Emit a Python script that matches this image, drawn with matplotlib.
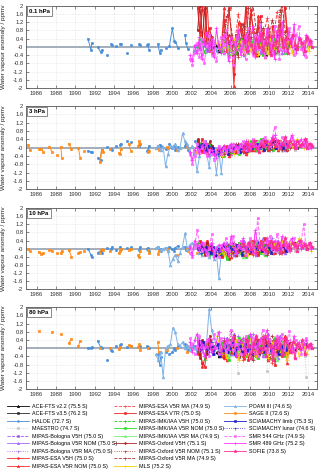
import numpy as np
import matplotlib.pyplot as plt
from matplotlib.lines import Line2D

plt.rcParams['font.family'] = ['Liberation Sans', 'DejaVu Sans']

nan = np.nan
LEVELS = ['0.1 hPa', '3 hPa', '10 hPa', '80 hPa']


def grid(start, n, step=0.25):
    # regular sampling dates (decimal years)
    return list(np.round(start + step * np.arange(n), 3))


# ---- sampling dates -------------------------------------------------------
HALOE_T = [1991.3, 1991.6, 1991.7, 1992.3, 1992.6, 1992.7, 1993.3, 1993.7, 1993.8,
           1994.2, 1994.6, 1994.7, 1995.3, 1995.7, 1996.6, 1996.7, 1997.4, 1997.5,
           1997.6, 1998.5, 1998.7, 1998.8, 1999.3, 1999.7, 2000.0, 2000.2, 2000.3,
           2000.6, 2001.3, 2001.4, 2001.6, 2002.3, 2002.6, 2003.3, 2003.6, 2004.3,
           2004.6, 2005.3, 2005.6]
SAGE_T = [1985.1, 1985.3, 1986.2, 1986.5, 1986.7, 1987.3, 1987.6, 1988.1, 1988.5,
          1988.6, 1989.3, 1989.6, 1990.3, 1990.5, 1990.9, 1992.5, 1992.7, 1992.8,
          1993.6, 1994.5, 1994.6, 1994.7, 1995.5, 1995.7, 1996.5, 1996.6, 1996.7,
          1997.5, 1997.6, 1998.5, 1998.6, 1999.5, 1999.6, 2000.5, 2001.5, 2001.6,
          2002.5, 2003.5, 2004.5]
POAM_T = grid(1998.3, 31)
V5H_T = grid(2002.6, 7)
V5R_T = grid(2005.1, 29)
MA_T = grid(2005.3, 14, 0.5)
V7R_T = grid(2002.6, 39)
MLS_T = grid(2004.6, 40)
SMR_T = grid(2001.8, 51)
SOFIE_T = grid(2007.4, 29)
SCIA_T = grid(2002.7, 38)
ACE22_T = [2004.6, 2004.8, 2005.6, 2005.8, 2006.6, 2006.8, 2007.6, 2007.8, 2008.6,
           2008.8, 2009.6, 2009.8]
ACE35_T = [2004.2, 2004.7, 2004.9, 2005.2, 2005.7, 2005.9, 2006.2, 2006.7, 2006.9,
           2007.2, 2007.7, 2007.9, 2008.2, 2008.7, 2008.9, 2009.2, 2009.7, 2009.9,
           2010.7, 2010.9, 2011.7, 2011.9, 2012.7, 2012.9, 2013.7, 2013.9]
MAESTRO_T = [2004.7, 2005.7, 2006.7, 2006.8, 2007.7, 2008.7, 2009.7, 2009.8, 2010.7,
             2011.7, 2012.7, 2013.7, 2013.8]
LUNAR_T = [2002.7, 2003.0, 2003.7, 2004.0, 2004.7, 2005.0, 2005.7, 2006.0, 2006.7,
           2007.0, 2007.7, 2008.0]

# ---- anomalies (ppmv), one list per level: 0.1, 3, 10, 80 hPa ---------------
HALOE_V = [
    [0.4, -0.15, 0.2, 0.0, -0.25, -0.15, -0.4, 0.15, 0.1, 0.05, 0.15, 0.15, -0.3, 0.1, 0.15, 0.1, 0.1, 0.12, -0.15,
     0.15, -0.3, -0.15, -0.05, 0.05, 0.9, 0.3, 0.25, -0.05, 0.6, 0.2, -0.1, -0.2, 0.1, 0.3, -0.1, 0.2, -0.2, 0.1, 0.0],
    [-0.15, -0.2, -0.22, -0.5, -0.6, -0.1, 0.05, -0.05, -0.1, 0.1, 0.15, 0.2, 0.3, 0.25, 0.1, 0.2, -0.15, -0.1, 0.1,
     0.05, 0.15, 0.1, -0.05, 0.2, 0.0, 0.1, -0.1, 0.05, 0.1, 0.2, -0.1, 0.3, 0.1, -0.2, 0.0, -0.3, -0.1, 0.1, 0.0],
    [0.0, -0.3, -0.4, -0.2, -0.1, -0.2, 0.05, 0.0, 0.1, -0.05, 0.1, 0.0, 0.05, 0.1, -0.05, 0.1, 0.0, 0.05, -0.1,
     0.1, 0.0, -0.1, 0.05, 0.1, 0.0, -0.1, 0.05, 0.15, 0.1, -0.05, 0.0, 0.2, 0.1, -0.1, 0.05, -0.2, 0.1, 0.0, 0.05],
    [0.0, 0.0, 0.05, 0.35, 0.05, 0.0, -0.6, -0.1, -0.15, 0.1, 0.15, 0.2, 0.05, 0.1, 0.05, 0.1, 0.1, 0.05, 0.0,
     -0.3, -0.8, -0.45, -0.2, -0.3, -0.2, 0.0, -0.1, 0.1, 0.2, 0.0, -0.1, 0.1, -0.2, 0.3, 0.0, -0.3, 0.1, 0.2, -0.1],
]
SAGE_V = [
    None,
    [0.15, -0.1, -0.05, -0.05, -0.2, 0.05, -0.2, -0.35, 0.05, -0.5, 0.2, -0.05, 0.0, -0.5, -0.15, -0.7, -0.1, -0.2,
     -0.05, -0.25, -0.3, -0.05, 0.2, -0.15, 0.1, 0.3, 0.2, -0.2, -0.15, 0.1, -0.1, 0.05, 0.0, -0.1, 0.1, 0.0, -0.2,
     0.05, -0.1],
    [0.0, -0.1, -0.15, -0.25, -0.2, -0.05, -0.1, -0.2, -0.2, -0.1, -0.05, -0.4, -0.2, -0.15, -0.1, -0.2, 0.0, -0.05,
     -0.1, -0.2, -0.1, 0.0, -0.05, 0.0, -0.3, -0.4, -0.1, -0.05, -0.2, -0.25, -0.1, 0.0, -0.1, -0.3, 0.0, -0.1, -0.2,
     -0.1, 0.0],
    [nan, nan, 0.85, nan, nan, nan, 0.8, nan, 0.7, nan, 0.25, 0.45, 0.1, 0.35, nan, 0.0, nan, nan, 0.0, -0.05, 0.05,
     nan, 0.15, 0.1, 0.05, 0.2, -0.1, 0.0, nan, 0.3, -0.2, -0.1, 0.1, 0.0, -0.2, 0.1, 0.0, -0.1, 0.05],
]
POAM_V = [
    None,
    [0.0, 0.1, -0.1, 0.05, -0.9, -0.3, 0.1, 0.05, 0.2, -0.1, 0.0, 0.7, 0.3, 0.2, -0.2, 0.1, -0.3, -1.15, -0.4, nan,
     0.2, -0.3, -0.95, 0.1, -0.3, -1.25, -0.2, -1.2, 0.1, nan, nan],
    [0.05, 0.1, -0.05, 0.0, 0.05, -0.1, -0.8, -0.5, -0.3, -0.6, -0.2, 0.1, 0.75, 0.0, 0.2, 0.3, 0.1, 0.2, -0.2, -0.3,
     0.0, -0.1, -0.4, -0.2, -0.5, -0.3, -1.45, -0.2, 0.0, nan, nan],
    [-0.3, -0.6, -0.2, -1.4, 0.0, 0.1, 0.2, 1.0, 0.8, 0.2, 0.1, 0.3, 0.0, 0.15, -0.1, 0.1, 0.0, -0.2, 0.3, 0.2,
     0.1, 0.4, 1.9, 0.9, 0.5, 0.1, -0.2, 0.0, 0.2, nan, nan],
]
BOL_V5H = [[0.2, -0.1, 0.3, 0.1, -0.2, 0.0, 0.2], [0.1, 0.2, -0.1, 0.3, 0.0, -0.1, 0.1],
           [0.2, 0.1, 0.3, 0.0, -0.1, 0.1, 0.0], [-0.2, 0.3, 0.0, -0.4, 0.1, 0.3, -0.1]]
ESA_V5H = [[1.9, 0.6, 2.2, 0.3, 2.1, -0.2, 0.5], [0.3, 0.1, -0.2, 0.2, -0.3, 0.0, 0.1],
           [0.1, 0.3, -0.1, 0.2, 0.4, -0.2, 0.0], [-0.3, 0.2, -0.9, -0.5, 0.4, 0.1, -0.2]]
IMK_V5H = [[0.0, 0.4, 0.2, -0.3, 0.1, 0.3, -0.1], [0.0, 0.2, 0.1, -0.2, 0.1, 0.2, -0.1],
           [0.3, 0.0, -0.2, 0.1, 0.2, -0.3, 0.1], [0.5, -0.2, 0.1, -0.6, 0.2, 0.0, 0.3]]
OXF_V5H = [[0.8, 2.0, 0.4, 1.9, 0.2, 0.6, -0.3], [0.4, -0.1, 0.2, 0.0, -0.2, 0.3, 0.1],
           [0.0, 0.2, 0.1, -0.3, 0.3, 0.1, -0.1], [0.2, -0.5, 0.4, 0.0, -0.3, 0.6, 0.1]]
BOL_NOM = [
    [0.1, -0.3, 0.4, 0.0, -0.2, 0.3, -0.1, 0.5, 0.0, -0.4, 0.2, 0.1, 0.3, -0.2, 0.0, 0.4, -0.3, 0.1, 0.2, -0.1,
     0.5, 0.0, -0.2, 0.3, 0.1, -0.3, 0.2, 0.0, 0.4],
    [-0.3, -0.1, -0.2, 0.0, -0.3, 0.1, -0.1, 0.0, 0.2, -0.2, 0.1, 0.0, -0.1, 0.2, 0.3, 0.0, 0.1, 0.4, 0.2, -0.1,
     0.3, 0.1, 0.2, 0.0, 0.3, 0.2, -0.1, 0.1, 0.2],
    [0.1, -0.2, 0.3, -0.1, 0.0, -0.3, 0.2, 0.1, -0.2, 0.4, 0.0, -0.1, 0.3, 0.2, -0.3, 0.1, 0.0, 0.5, -0.2, 0.1,
     0.3, 0.0, -0.1, 0.4, 0.1, 0.2, -0.2, 0.3, 0.0],
    [0.2, -0.4, 0.5, 0.0, -0.3, 0.7, -0.2, 0.3, 0.1, -0.5, 0.4, -0.1, 0.6, 0.0, -0.3, 0.2, 0.5, -0.4, 0.1, 0.7,
     -0.2, 0.3, 0.0, -0.5, 0.6, 0.2, -0.3, 0.4, 0.1],
]
ESA_NOM = [
    [0.3, 1.9, -0.2, 0.6, 0.4, -1.9, 0.1, 1.2, 0.8, -0.3, 2.1, 0.4, 1.6, 0.9, -0.4, 1.5, 0.2, 0.7, -0.5, 0.9,
     0.3, 0.5, -0.3, 0.6, 1.1, 0.2, 2.2, 0.8, 0.1],
    [-0.2, -0.3, 0.1, -0.4, -0.1, 0.0, -0.2, 0.1, -0.1, 0.2, -0.3, 0.0, 0.1, -0.1, 0.2, 0.0, 0.3, -0.1, 0.1, 0.2,
     0.0, 0.3, 0.1, -0.1, 0.2, 0.1, 0.0, 0.3, 0.1],
    [-0.3, -0.1, 0.1, -0.2, -0.4, 0.0, 0.2, -0.1, 0.1, -0.3, 0.0, 0.3, -0.1, 0.2, 0.1, -0.2, 0.4, 0.0, -0.1, 0.2,
     0.3, -0.2, 0.1, 0.0, 0.2, -0.1, 0.3, 0.0, 0.1],
    [-0.4, 0.3, -0.6, 0.2, -0.2, 0.5, -0.3, 0.0, 0.4, -0.5, 0.1, 0.3, -0.2, 0.0, 0.5, -0.4, 0.2, -0.1, 0.4, -0.6,
     0.1, 0.3, -0.2, 0.5, -0.3, 0.0, 0.6, -0.7, 0.2],
]
IMK_NOM = [
    [-0.2, 0.3, 0.0, -0.4, 0.2, 0.1, -0.3, 0.0, 0.4, -0.1, 0.2, -0.3, 0.1, 0.3, -0.2, 0.0, 0.2, -0.4, 0.1, 0.3,
     -0.1, 0.0, 0.4, -0.2, 0.1, 0.2, -0.3, 0.0, 0.3],
    [-0.2, -0.4, -0.1, 0.1, -0.2, 0.0, 0.1, -0.3, 0.0, 0.1, 0.2, -0.1, 0.3, 0.0, -0.1, 0.2, 0.4, 0.1, 0.0, 0.2,
     0.1, -0.1, 0.3, 0.2, 0.0, 0.1, 0.3, 0.0, 0.2],
    [-0.2, 0.0, -0.5, 0.1, 0.2, -0.1, 0.0, 0.3, -0.2, 0.1, -0.4, 0.2, 0.0, -0.1, 0.3, 0.1, -0.2, 0.2, -0.3, 0.0,
     0.4, -0.1, 0.2, 0.0, -0.2, 0.3, 0.1, -0.1, 0.2],
    [0.3, -0.2, 0.0, -0.6, 0.4, 0.1, -0.3, 0.5, -0.1, 0.2, -0.4, 0.6, 0.0, -0.2, 0.3, -0.5, 0.1, 0.4, -0.3, 0.2,
     0.0, -0.6, 0.5, 0.1, -0.2, 0.3, -0.4, 0.2, 0.0],
]
OXF_NOM = [
    [0.4, -0.2, 1.5, 0.1, 0.6, -0.4, 0.3, 0.8, -0.1, 1.0, 0.2, 1.9, 0.5, -0.3, 0.7, 0.1, 1.2, -0.2, 0.4, 0.9,
     0.0, 0.6, -0.3, 0.5, 1.8, 0.2, 0.7, -0.1, 0.3],
    [-0.1, -0.3, 0.0, -0.2, 0.1, -0.1, 0.2, 0.0, -0.2, 0.1, 0.3, -0.1, 0.0, 0.2, 0.1, -0.1, 0.2, 0.0, 0.3, 0.1,
     -0.1, 0.2, 0.0, 0.3, 0.1, -0.1, 0.2, 0.1, 0.0],
    [0.0, 0.2, -0.3, 0.1, -0.2, 0.3, 0.0, -0.1, 0.2, 0.0, -0.3, 0.1, 0.4, -0.2, 0.0, 0.2, -0.1, 0.3, 0.1, -0.2,
     0.0, 0.3, -0.1, 0.1, 0.2, -0.2, 0.0, 0.2, -0.1],
    [-0.3, 0.4, -0.1, 0.2, 0.85, -0.2, 0.1, -0.5, 0.3, 0.0, -0.3, 0.2, 0.5, -0.4, 0.0, 0.3, -0.2, 0.6, -0.1, 0.1,
     -0.5, 0.4, 0.2, -0.3, 0.1, 0.5, -0.2, 0.0, 0.3],
]
BOL_MA = [[0.3, -0.2, 0.1, 0.4, -0.1, 0.2, 0.0, -0.3, 0.3, 0.1, -0.2, 0.4, 0.0, 0.2],
          [-0.1, 0.1, 0.0, 0.2, -0.2, 0.1, 0.3, 0.0, 0.1, 0.2, -0.1, 0.3, 0.1, 0.0],
          [0.2, -0.3, 0.1, 0.0, 0.3, -0.1, 0.2, 0.4, -0.2, 0.1, 0.5, 0.0, 0.3, -0.1],
          [0.5, -0.3, 0.2, 0.6, -0.4, 0.1, 0.7, -0.2, 0.3, 0.5, -0.1, 0.6, 0.2, -0.3]]
ESA_MA = [[1.2, 0.3, -0.4, 1.6, 0.2, 1.9, -0.2, 0.8, 0.4, 1.4, 0.0, 1.7, 0.5, 0.9],
          [0.0, -0.2, 0.2, 0.1, -0.1, 0.3, 0.0, 0.2, -0.1, 0.1, 0.3, 0.0, 0.2, 0.1],
          [-0.2, 0.1, 0.3, -0.1, 0.2, 0.0, -0.3, 0.2, 0.1, 0.4, -0.1, 0.2, 0.0, 0.3],
          [-0.5, 0.2, -0.3, 0.4, -0.6, 0.1, 0.3, -0.4, 0.5, 0.0, -0.7, 0.3, -0.2, 0.4]]
IMK_MA = [[0.2, 0.0, -0.3, 0.3, 0.1, -0.2, 0.4, 0.0, -0.1, 0.3, 0.2, -0.3, 0.1, 0.2],
          [-0.3, 0.0, 0.1, -0.1, 0.2, 0.0, 0.1, 0.3, 0.0, 0.2, 0.1, 0.2, -0.1, 0.1],
          [0.1, -0.2, 0.0, 0.2, -0.4, 0.1, 0.3, 0.0, -0.2, 0.2, 0.0, -0.1, 0.3, 0.1],
          [0.1, -0.4, 0.3, -0.2, 0.5, 0.0, -0.5, 0.2, 0.4, -0.3, 0.1, -0.6, 0.3, 0.0]]
OXF_MA = [[0.7, 1.8, 0.2, -0.5, 1.1, 0.4, 2.1, 0.3, 0.9, -0.1, 1.3, 0.6, 2.1, 0.2],
          [0.1, -0.2, 0.0, 0.2, 0.1, -0.1, 0.3, 0.0, 0.2, 0.1, 0.0, 0.2, 0.1, -0.1],
          [0.0, 0.2, -0.2, 0.1, 0.3, -0.1, 0.0, 0.2, 0.1, -0.3, 0.2, 0.0, 0.1, 0.3],
          [-0.2, 0.3, 0.5, -0.4, 0.0, 0.2, -0.6, 0.4, -0.1, 0.3, 0.6, -0.2, 0.0, 0.4]]
ESA_V7R = [
    [2.2, 0.7, 1.8, 2.3, 0.4, 0.9, 0.3, nan, nan, nan, 0.2, 1.3, -0.1, 1.9, 0.5, -1.3, 0.6, 0.2, 1.1, 0.4,
     2.2, -0.2, 1.8, 0.7, 0.2, 0.9, 1.5, 0.1, 0.3, 0.6, -0.3, 1.0, 0.4, 0.2, 0.8, 2.1, 1.9, 0.5, 0.3],
    [0.3, 0.1, 0.4, -0.1, 0.2, 0.0, -0.3, nan, nan, nan, -0.4, -0.2, 0.0, -0.3, 0.1, -0.1, -0.2, 0.0, 0.1, -0.2,
     0.2, 0.0, -0.1, 0.1, 0.3, 0.0, 0.2, 0.1, 0.3, -0.1, 0.2, 0.4, 0.0, 0.1, 0.3, 0.0, 0.2, -0.1, 0.1],
    [0.2, 0.4, -0.1, 0.1, 0.3, -0.2, 0.0, nan, nan, nan, -0.4, -0.1, 0.1, -0.5, 0.0, 0.2, -0.3, 0.1, 0.3, -0.1,
     0.0, 0.2, -0.2, 0.4, 0.1, -0.3, 0.0, 0.2, 0.5, -0.1, 0.1, 0.3, -0.2, 0.0, 0.2, 0.4, -0.1, 0.1, 0.0],
    [0.3, -0.3, -0.7, -0.9, 0.2, 0.4, -0.1, nan, nan, nan, 0.3, -0.5, 0.1, 0.4, -0.2, 0.6, -0.4, 0.0, 0.3, -0.3,
     0.5, -0.6, 0.1, 0.2, -0.4, 0.4, 0.0, -0.2, 0.6, -0.5, 0.2, 0.0, -0.8, 0.3, 0.1, -0.4, 0.5, 0.0, -0.2],
]
MLS_V = [
    [0.2, -0.1, 0.3, 0.0, 0.1, -0.2, 0.2, 0.4, -0.1, 0.0, 0.3, -0.3, 0.1, 0.2, -0.2, 0.0, 0.3, -0.4, 0.1, 0.2,
     0.0, -0.3, 0.4, 0.1, -0.1, 0.2, 0.5, 0.0, -0.2, 0.3, 0.1, -0.3, 0.2, 0.0, 0.4, -0.1, 0.1, 0.3, -0.2, 0.2],
    [-0.3, -0.2, -0.4, -0.1, -0.2, 0.0, -0.1, -0.3, 0.0, 0.1, -0.1, 0.0, 0.1, -0.2, 0.0, 0.2, 0.1, -0.1, 0.2, 0.0,
     0.1, 0.3, 0.0, 0.1, 0.2, 0.0, 0.3, 0.1, 0.2, 0.0, 0.3, 0.1, 0.2, 0.4, 0.1, 0.2, 0.0, 0.3, 0.1, 0.2],
    [-0.2, -0.4, -0.1, -0.3, 0.0, -0.2, 0.1, -0.1, 0.0, 0.2, -0.2, 0.0, 0.1, -0.3, 0.2, 0.0, -0.1, 0.1, 0.3, -0.2,
     0.0, 0.2, 0.1, -0.1, 0.3, 0.2, 0.0, 0.4, 0.1, 0.3, 0.2, 0.4, 0.1, 0.3, 0.5, 0.2, 0.3, 0.1, 0.2, -0.1],
    [0.6, 0.2, -0.3, 0.1, -0.5, 0.3, 0.0, -0.2, 0.4, -0.6, 0.1, 0.2, -0.3, 0.0, 0.5, -0.1, -0.4, 0.2, 0.3, -0.2,
     0.1, -0.5, 0.0, 0.3, -0.1, 0.4, -0.3, 0.0, 0.2, -0.6, 0.1, -0.2, 0.3, 0.0, -0.4, 0.2, 0.1, -0.3, 0.0, 0.2],
]
ACE22_V = [[0.1, -0.2, 0.0, 0.2, -0.1, 0.1, 0.3, -0.2, 0.0, -0.4, 0.1, 0.2],
           [-0.2, -0.3, -0.1, 0.0, -0.2, -0.1, 0.0, 0.1, -0.1, 0.0, 0.1, 0.0],
           [-0.3, -0.1, 0.0, -0.2, -0.3, 0.1, -0.1, 0.0, 0.2, -0.2, 0.0, 0.1],
           [-0.2, -0.4, 0.1, -0.1, -0.3, 0.0, 0.2, -0.1, 0.0, -0.3, 0.1, 0.2]]
ACE35_V = [
    [0.0, 0.1, -0.2, 0.2, -0.1, 0.0, 0.1, -0.3, 0.2, 0.0, -0.2, 0.1, 0.3, -0.1, 0.0, 0.2, -0.4, 0.1, 0.0, -0.2,
     0.2, 0.1, -0.1, 0.0, 0.3, 0.4],
    [-0.2, -0.3, -0.1, -0.2, 0.0, -0.1, -0.2, -0.1, 0.0, -0.1, 0.1, 0.0, 0.1, 0.0, 0.2, 0.0, 0.1, 0.2, 0.1, 0.0,
     0.2, 0.1, 0.2, 0.0, 0.1, 0.2],
    [-0.1, -0.2, -0.3, 0.0, -0.2, -0.1, 0.1, -0.2, 0.0, -0.1, 0.1, -0.2, 0.0, 0.2, -0.1, 0.1, 0.0, 0.2, 0.1, 0.0,
     0.2, 0.1, 0.3, 0.1, 0.2, 0.0],
    [0.1, -0.2, -0.3, 0.0, -0.1, -0.3, 0.1, -0.2, -0.4, 0.0, 0.1, -0.1, -0.2, 0.0, -0.3, 0.1, 0.0, -0.2, 0.1, -0.1,
     0.0, 0.2, -0.1, 0.0, 0.2, 0.1],
]
MAESTRO_V = [[0.3, -0.2, 0.1, 0.4, -0.1, 0.2, 0.0, -0.3, 0.2, 0.1, -0.2, 0.3, 0.0],
             [-0.3, 0.1, -0.2, 0.0, 0.2, -0.1, 0.1, 0.3, 0.0, 0.2, -0.1, 0.1, 0.2],
             [-0.4, 0.0, 0.2, -0.3, 0.1, 0.3, -0.2, 0.0, 0.2, 0.1, -0.1, 0.3, 0.0],
             [0.8, -0.4, -0.3, -1.2, 0.2, -0.5, -0.2, -1.1, 0.1, -0.3, 0.2, -0.4, -1.4]]
SCIA_LIMB = [
    None,
    [0.1, 0.0, 0.2, -0.1, 0.1, -0.2, 0.0, -0.3, -0.1, -0.2, 0.0, -0.1, -0.3, 0.1, -0.1, 0.0, 0.1, -0.2, 0.0, 0.1,
     -0.1, 0.2, 0.0, 0.1, 0.2, 0.0, 0.1, -0.1, 0.2, 0.0, 0.1, 0.3, 0.0, 0.2, 0.1, 0.0, 0.2, 0.1],
    [0.0, 0.2, -0.1, 0.1, 0.0, -0.2, 0.1, -0.3, 0.0, -0.1, 0.2, 0.0, -0.2, 0.1, 0.0, -0.1, 0.2, 0.0, -0.3, 0.1,
     0.0, 0.2, -0.1, 0.1, 0.0, 0.3, -0.1, 0.0, 0.2, 0.1, -0.2, 0.0, 0.1, 0.3, 0.0, 0.1, -0.1, 0.2],
    [0.2, -0.1, 0.3, 0.0, -0.2, 0.1, -0.3, 0.0, 0.2, -0.4, -0.1, 0.1, -0.2, 0.0, 0.3, -0.3, 0.0, 0.1, -0.2, 0.2,
     -0.1, 0.0, -0.3, 0.1, 0.2, -0.1, 0.0, -0.2, 0.1, 0.3, -0.1, 0.0, 0.2, -0.3, 0.1, 0.0, -0.1, 0.2],
]
SCIA_LUNAR = [None,
              [0.2, 0.0, -0.1, 0.1, -0.3, -0.2, 0.0, -0.1, 0.1, 0.0, -0.2, 0.1],
              [0.1, -0.2, 0.0, 0.2, -0.1, -0.3, 0.1, 0.0, -0.2, 0.1, 0.0, -0.1],
              [0.4, 0.0, -0.2, 0.3, 0.1, -0.3, 0.2, -0.1, 0.0, 0.3, -0.2, 0.1]]
SMR544_V = [
    [-0.6, -0.9, -0.3, 0.2, -0.5, 0.4, -0.8, 0.1, 0.6, -0.4, 0.3, -0.7, 0.0, 0.5, -0.3, 0.8, -0.5, 0.2, -0.9, 0.4,
     0.7, -0.2, 0.3, -0.6, 0.9, 0.1, -0.4, 0.6, -0.1, 1.1, 0.3, -0.5, 0.8, 0.0, -0.3, 1.0, 0.4, -0.6, 0.7, 0.2,
     -0.2, 0.9, 0.5, -0.4, 0.6, 1.0, -0.1, 0.3, -0.5, 0.4, 0.2],
    [-0.3, -0.8, -0.4, 0.2, -0.2, 0.0, 0.3, -0.4, -0.1, -0.3, -0.6, -0.2, 0.1, -0.3, 0.0, -0.2, 0.1, -0.1, 0.2, 0.0,
     -0.2, 0.1, 0.3, -0.1, 0.2, 0.0, 0.4, 0.1, -0.1, 0.3, 0.2, 0.5, 0.3, 0.1, 0.4, 1.0, 0.2, 0.0, 0.5, 0.2,
     0.3, 0.1, 0.5, 0.2, 0.0, 0.3, 0.1, 0.2, 0.4, 0.0, 0.2],
    [-0.2, -0.4, 0.1, 0.9, 0.2, -0.1, 0.3, -0.3, 0.0, 0.7, -0.2, 0.1, -0.4, 0.2, 0.0, 0.5, -0.1, 0.3, 0.6, -0.2,
     0.1, 0.4, 0.0, -0.3, 0.2, 0.5, 0.1, -0.2, 1.5, 0.3, 0.0, -0.2, 0.4, 0.6, 0.1, -0.1, 0.7, 0.3, 0.0, 0.4,
     0.2, -0.1, 0.3, 0.5, 0.1, 0.2, 0.4, 1.2, 0.0, 0.3, 0.1],
    [0.5, 0.2, -0.3, 0.1, 0.6, -0.2, 0.0, 0.4, -0.4, 0.2, 0.7, 0.0, -0.3, 0.5, 0.1, -0.2, 0.3, 0.9, -0.1, 0.2,
     0.4, -0.3, 0.0, 0.6, 0.2, -0.2, 0.5, 0.1, -0.4, 0.3, 0.9, 0.0, -0.2, 0.4, 0.1, -0.3, 0.6, 0.2, 0.7, -0.1,
     0.3, 0.85, 0.0, -0.2, 0.4, 0.1, -0.3, 0.2, 0.5, 0.0, 0.1],
]
SMR489_V = [
    [-0.4, -0.7, 0.1, -0.3, 0.5, -0.6, 0.2, 0.7, -0.2, 0.4, -0.5, 0.9, 0.0, -0.3, 0.6, 0.2, -0.7, 0.5, 0.3, -0.1,
     0.8, -0.4, 0.1, 0.6, -0.2, 0.4, 1.0, -0.5, 0.3, 0.7, -0.3, 0.2, 0.9, -0.1, 0.5, -0.6, 0.8, 0.3, 1.2, -0.2,
     0.4, 0.7, 0.0, 1.1, -0.3, 0.5, 0.2, -0.4, 0.6, 0.1, 0.3],
    [-0.2, -0.6, -0.1, 0.0, -0.3, 0.1, -0.2, 0.2, -0.4, -0.1, -0.3, -0.5, 0.0, -0.2, 0.1, -0.1, 0.0, 0.2, -0.2, 0.1,
     0.0, 0.2, -0.1, 0.3, 0.0, 0.2, 0.1, 0.3, 0.0, 0.2, 0.4, 0.1, 0.3, 0.2, 0.5, 0.6, 0.3, 0.1, 0.2, 0.4,
     0.0, 0.2, 0.6, 0.3, 0.1, 0.2, 0.4, 0.1, 0.3, 0.2, 0.0],
    [0.1, -0.3, 0.4, 0.2, -0.1, 0.3, 0.0, -0.2, 0.1, 0.3, -0.4, 0.0, 0.2, -0.1, 0.3, 0.0, -0.3, 0.6, 0.1, -0.2,
     0.2, 0.0, 0.5, -0.1, 0.3, 0.1, -0.2, 0.9, 0.2, 0.0, 0.3, -0.1, 0.5, 0.2, 0.0, 0.4, 0.1, -0.2, 0.6, 0.2,
     0.0, 0.3, 0.5, 0.1, 0.2, 0.4, 0.0, 0.3, 0.1, 0.2, 0.0],
    [0.3, -0.2, 0.4, 0.7, -0.1, 0.2, -0.4, 0.1, 0.5, -0.2, 0.0, 0.3, 0.8, -0.3, 0.1, 0.4, -0.1, 0.2, 0.6, -0.4,
     0.0, 0.3, 0.5, -0.2, 0.1, 0.7, 0.0, -0.3, 0.2, 0.4, -0.1, 0.6, 0.9, 0.1, -0.2, 0.3, 0.0, 0.5, -0.3, 0.2,
     0.4, 0.1, -0.2, 0.6, 0.0, 0.3, -0.1, 0.2, 0.4, 0.1, 0.2],
]
SOFIE_V = [
    [0.3, -0.2, 0.5, 0.1, -0.3, 0.4, 0.0, 0.6, -0.1, 0.2, 0.5, -0.4, 0.1, 0.3, -0.2, 0.7, 0.0, 0.4, -0.3, 0.2,
     0.6, 0.1, -0.1, 0.4, 0.2, -0.2, 0.5, 0.3, 0.0],
    [0.0, 0.2, -0.1, 0.1, 0.3, 0.0, -0.2, 0.2, 0.1, 0.3, 0.0, 0.2, 0.4, 0.1, 0.3, 0.0, 0.2, 0.5, 0.1, 0.3,
     0.2, 0.0, 0.3, 0.1, 0.2, 0.4, 0.0, 0.2, 0.1],
    [0.2, -0.1, 0.3, 0.0, 0.4, -0.2, 0.1, 0.3, 0.0, -0.1, 0.2, 0.4, 0.1, 0.0, 0.3, -0.2, 0.2, 0.5, 0.1, 0.0,
     0.3, 0.2, -0.1, 0.4, 0.1, 0.2, 0.0, 0.3, 0.1],
    [-0.3, 0.4, 0.1, -0.5, 0.2, 0.6, -0.2, 0.0, 0.5, -0.4, 0.3, 0.1, -0.6, 0.4, 0.0, 0.2, -0.3, 0.5, 0.1, -0.2,
     0.3, -0.5, 0.2, 0.0, 0.4, -0.3, 0.1, 0.2, 0.0],
]

# label, colour, linestyle, marker, times, values
SERIES = [
    ('ACE-FTS v2.2 (75.5 S)', '#000000', '-', '^', ACE22_T, ACE22_V),
    ('ACE-FTS v3.5 (76.2 S)', '#262626', '-', 's', ACE35_T, ACE35_V),
    ('HALOE (72.7 S)', '#4a90d9', '-', '.', HALOE_T, HALOE_V),
    ('MAESTRO (74.7 S)', '#c4c4c4', ':', 's', MAESTRO_T, MAESTRO_V),
    ('MIPAS-Bologna V5H (75.0 S)', '#9b55f0', '--', 's', V5H_T, BOL_V5H),
    ('MIPAS-Bologna V5R NOM (75.0 S)', '#a366ff', '-', '^', V5R_T, BOL_NOM),
    ('MIPAS-Bologna V5R MA (75.0 S)', '#a366ff', ':', '+', MA_T, BOL_MA),
    ('MIPAS-ESA V5H (75.0 S)', '#ff2a2a', '-', '.', V5H_T, ESA_V5H),
    ('MIPAS-ESA V5R NOM (75.0 S)', '#ff2a2a', '-', '^', V5R_T, ESA_NOM),
    ('MIPAS-ESA V5R MA (74.9 S)', '#ff4040', '--', '+', MA_T, ESA_MA),
    ('MIPAS-ESA V7R (75.0 S)', '#e8262b', '-', 's', V7R_T, ESA_V7R),
    ('MIPAS-IMK/IAA V5H (75.0 S)', '#22cc22', '--', '+', V5H_T, IMK_V5H),
    ('MIPAS-IMK/IAA V5R NOM (75.0 S)', '#22dd22', '-', 's', V5R_T, IMK_NOM),
    ('MIPAS-IMK/IAA V5R MA (74.9 S)', '#77ee77', '-', '^', MA_T, IMK_MA),
    ('MIPAS-Oxford V5H (75.1 S)', '#b22222', '-', '.', V5H_T, OXF_V5H),
    ('MIPAS-Oxford V5R NOM (75.1 S)', '#b03a3a', ':', '+', V5R_T, OXF_NOM),
    ('MIPAS-Oxford V5R MA (74.9 S)', '#b03a3a', '--', '+', MA_T, OXF_MA),
    ('MLS (75.2 S)', '#f2d100', '-', '+', MLS_T, MLS_V),
    ('POAM III (74.6 S)', '#80b3e6', '-', '^', POAM_T, POAM_V),
    ('SAGE II (72.6 S)', '#ff8c1a', '-', 's', SAGE_T, SAGE_V),
    ('SCIAMACHY limb (75.3 S)', '#1c1cc8', '-', 's', SCIA_T, SCIA_LIMB),
    ('SCIAMACHY lunar (74.6 S)', '#3a3ad0', ':', '+', LUNAR_T, SCIA_LUNAR),
    ('SMR 544 GHz (74.9 S)', '#ff66ff', '--', 's', SMR_T, SMR544_V),
    ('SMR 489 GHz (75.2 S)', '#ff33ff', '-', '+', SMR_T, SMR489_V),
    ('SOFIE (73.8 S)', '#ff2d95', '-', '*', SOFIE_T, SOFIE_V),
]
MS = {'.': 3.2, '+': 2.7, 's': 1.7, '^': 2.0, '*': 2.9}

DRAW_ORDER = [2, 19, 18] + [i for i in range(len(SERIES)) if i not in (2, 19, 18)]


def plot_series(ax, t, v, color, ls, marker, gap):
    tt, vv = [], []
    n = min(len(t), len(v))
    for i in range(n):
        if i and t[i] - t[i - 1] > gap:
            tt.append(nan)
            vv.append(nan)
        tt.append(t[i])
        vv.append(v[i])
    ax.plot(tt, vv, color=color, ls=ls, lw=0.7, marker=marker, ms=MS[marker],
            mew=0.5, zorder=3)


fig = plt.figure(figsize=(3.2, 4.74), dpi=100)
panels = [(0.814, 0.174), (0.601, 0.175), (0.390, 0.171), (0.179, 0.173)]

for k, (bottom, height) in enumerate(panels):
    ax = fig.add_axes([0.081, bottom, 0.909, height])
    ax.axhline(0, color='#a3aebb', lw=1.4, zorder=1)
    for i in DRAW_ORDER:
        label, col, ls, mk, t, vals = SERIES[i]
        if vals[k] is None:
            continue
        gap = 0.6 if 'MA (' in label else 0.32
        plot_series(ax, t, vals[k], col, ls, mk, gap)

    ax.set_xlim(1984.9, 2014.9)
    ax.set_ylim(-2, 2)
    ax.set_xticks(range(1986, 2015, 2))
    yt = np.round(np.arange(-2, 2.01, 0.4), 1)
    ax.set_yticks(yt)
    ax.set_yticklabels(['%g' % y for y in yt])
    ax.grid(True, color='#d4d4d4', lw=0.4, ls=':')
    ax.set_axisbelow(True)
    ax.tick_params(direction='in', length=2, width=0.4, labelsize=4.2, pad=1.8,
                   top=True, right=True, colors='#333333')
    for s in ax.spines.values():
        s.set_color('#555555')
        s.set_linewidth(0.6)
    ax.set_ylabel('Water vapour anomaly / ppmv', fontsize=4.6, color='#222222')
    ax.yaxis.set_label_coords(-0.068, 0.5)
    ax.text(0.012, 0.965, LEVELS[k], transform=ax.transAxes, ha='left', va='top',
            fontsize=4.3, fontweight='bold', zorder=6,
            bbox=dict(boxstyle='square,pad=0.35', fc='white', ec='#777777', lw=0.6))

# legend in three columns
handles = [Line2D([], [], color=c, ls=ls, lw=0.6, marker=mk, ms=MS[mk] * 0.8, mew=0.45)
           for (_, c, ls, mk, _, _) in SERIES]
labels = [s[0] for s in SERIES]
cols = [(0, 9, 0.022), (9, 18, 0.356), (18, 25, 0.700)]
for a, b, x in cols:
    fig.legend(handles[a:b], labels[a:b], loc='upper left', bbox_to_anchor=(x, 0.148),
               frameon=False, fontsize=3.9, handlelength=4.1, handletextpad=0.6,
               labelspacing=0.46, borderpad=0, borderaxespad=0)

fig.savefig('out.png', dpi=100)
